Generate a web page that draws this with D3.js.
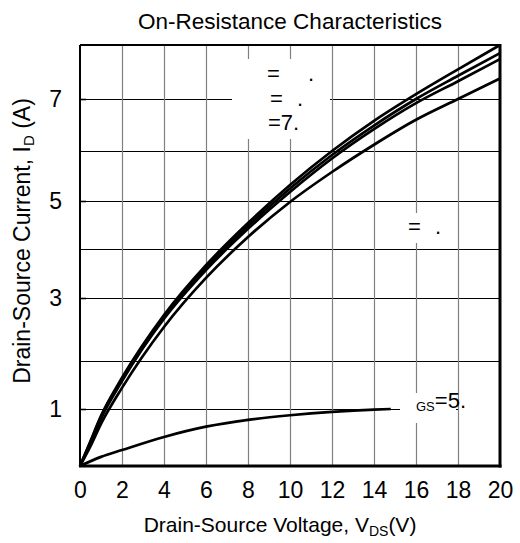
<!DOCTYPE html>
<html>
<head>
<meta charset="utf-8">
<script src="https://cdn.jsdelivr.net/npm/d3@7"></script>
<style>
  html, body { margin: 0; padding: 0; background: #fff; }
  svg { display: block; font-family: "Liberation Sans", Arial, sans-serif; }
</style>
</head>
<body>
<svg id="chart" width="520" height="543"></svg>
<script>
// ---------------- data ----------------
const xTicks = [0, 2, 4, 6, 8, 10, 12, 14, 16, 18, 20];
const yTickLabels = [1, 3, 5, 7];
const yGrid = [1, 2, 3, 4, 5, 6, 7];
const yLevels = [0, 1, 2, 3, 4, 5, 6, 7, 8];

const vdsUpper = [0, 0.5, 1, 2, 4, 6, 8, 10, 12, 14, 16, 18, 20];
const idTop    = [0, 0.44, 0.88, 1.65, 2.73, 3.67, 4.54, 5.32, 6.00, 6.58, 7.09, 7.55, 8.00];
const idC2     = [0, 0.42, 0.86, 1.61, 2.70, 3.62, 4.48, 5.25, 5.92, 6.49, 7.00, 7.43, 7.85];
const idC3     = [0, 0.40, 0.83, 1.58, 2.67, 3.57, 4.42, 5.18, 5.85, 6.42, 6.92, 7.33, 7.74];
const idC4     = [0, 0.35, 0.74, 1.44, 2.54, 3.41, 4.25, 4.98, 5.58, 6.12, 6.60, 7.00, 7.38];
const vdsLow   = [0, 1, 2, 4, 6, 8, 10, 12, 14, 14.8];
const idLow    = [0, 0.16, 0.28, 0.51, 0.69, 0.81, 0.89, 0.95, 0.99, 1.00];

const title = "On-Resistance Characteristics";

// ---------------- layout ----------------
const L = 80, R = 500, T = 45, B = 466;
const FONT = "Liberation Sans, Arial, sans-serif";
const svg = d3.select("#chart");
svg.append("rect").attr("width", 520).attr("height", 543).attr("fill", "#fff");

const x = d3.scaleLinear().domain([0, 20]).range([L, R]);
// the scanned grid is not evenly spaced: piecewise-linear scale
const y = d3.scaleLinear().domain(yLevels).range([466, 409, 361, 298, 249, 201, 151, 99, 45]);

// horizontal grid (black)
const hg = svg.append("g").attr("transform", `translate(${L},0)`)
  .call(d3.axisLeft(y).tickValues(yGrid).tickSize(-(R - L)).tickFormat(""));
hg.select(".domain").remove();
hg.selectAll(".tick line").attr("stroke", "#000").attr("stroke-width", 1);

// white strip hiding the 1 A line right of the label (vertical grid stays on top)
svg.append("rect").attr("x", 458).attr("y", 403).attr("width", 41).attr("height", 12).attr("fill", "#fff");

// vertical grid (gray)
const vg = svg.append("g").attr("transform", `translate(0,${B})`)
  .call(d3.axisBottom(x).tickValues(xTicks.slice(1, -1)).tickSize(-(B - T)).tickFormat(""));
vg.select(".domain").remove();
vg.selectAll(".tick line").attr("stroke", "#808080").attr("stroke-width", 1.2);

// white label backgrounds
const boxes = [[232, 59, 98, 80], [401, 213, 50, 30], [400, 393, 56, 30]];
svg.append("g").selectAll("rect").data(boxes).join("rect")
  .attr("x", d => d[0]).attr("y", d => d[1]).attr("width", d => d[2]).attr("height", d => d[3])
  .attr("fill", "#fff");

// curves
const line = d3.line().x(d => x(d[0])).y(d => y(d[1])).curve(d3.curveMonotoneX);
const series = [
  d3.zip(vdsUpper, idTop), d3.zip(vdsUpper, idC2), d3.zip(vdsUpper, idC3),
  d3.zip(vdsUpper, idC4), d3.zip(vdsLow, idLow)
];
svg.append("g").selectAll("path").data(series).join("path")
  .attr("d", line).attr("fill", "none").attr("stroke", "#000")
  .attr("stroke-width", 2.7).attr("stroke-linejoin", "round");

// frame
svg.append("line").attr("x1", L).attr("x2", L).attr("y1", T).attr("y2", B + 1).attr("stroke", "#000").attr("stroke-width", 2);
svg.append("line").attr("x1", L).attr("x2", R).attr("y1", T).attr("y2", T).attr("stroke", "#000").attr("stroke-width", 1.8);
svg.append("line").attr("x1", R).attr("x2", R).attr("y1", T - 1).attr("y2", B + 1.5).attr("stroke", "#000").attr("stroke-width", 3);
svg.append("line").attr("x1", L - 1).attr("x2", R + 1.5).attr("y1", B).attr("y2", B).attr("stroke", "#000").attr("stroke-width", 3);

// x tick labels
const xa = svg.append("g").attr("transform", `translate(0,${B})`)
  .call(d3.axisBottom(x).tickValues(xTicks).tickSize(0).tickPadding(16));
xa.select(".domain").remove();
xa.selectAll("text").attr("font-size", 23).attr("font-family", FONT).attr("fill", "#000");

// y tick labels + short stubs
const ya = svg.append("g").attr("transform", `translate(${L},0)`)
  .call(d3.axisLeft(y).tickValues(yTickLabels).tickSize(-6).tickPadding(18));
ya.select(".domain").remove();
ya.selectAll(".tick line").attr("stroke", "#000").attr("stroke-width", 1.6);
ya.selectAll("text").attr("font-size", 23).attr("font-family", FONT).attr("fill", "#000");

// title
svg.append("text").attr("x", 290).attr("y", 29).attr("text-anchor", "middle")
  .attr("font-size", 22.5).text(title);

// x axis label
const xl = svg.append("text").attr("x", 280).attr("y", 532).attr("text-anchor", "middle").attr("font-size", 21);
xl.append("tspan").text("Drain-Source Voltage, V");
xl.append("tspan").attr("font-size", 14).attr("dy", 4).text("DS");
xl.append("tspan").attr("dy", -4).text("(V)");

// y axis label
const yl = svg.append("text").attr("transform", "translate(30,241) rotate(-90)")
  .attr("text-anchor", "middle").attr("font-size", 23);
yl.append("tspan").text("Drain-Source Current, I");
yl.append("tspan").attr("font-size", 15).attr("dy", 4).text("D");
yl.append("tspan").attr("dy", -4).text(" (A)");

// curve labels (glyphs partly missing in the original)
const lab = svg.append("g").attr("font-size", 22).attr("fill", "#000");
lab.append("text").attr("x", 267).attr("y", 81).text("=");
lab.append("text").attr("x", 308).attr("y", 81).text(".");
lab.append("text").attr("x", 270).attr("y", 106).text("=");
lab.append("text").attr("x", 297).attr("y", 106).text(".");
lab.append("text").attr("x", 268).attr("y", 130).text("=7.");
lab.append("text").attr("x", 408).attr("y", 234).text("=");
lab.append("text").attr("x", 435).attr("y", 234).text(".");
const gs = lab.append("text").attr("x", 416).attr("y", 411);
gs.append("tspan").attr("font-size", 13).text("GS");
gs.append("tspan").attr("dy", -3).attr("font-size", 22).text("=5.");
</script>
</body>
</html>
